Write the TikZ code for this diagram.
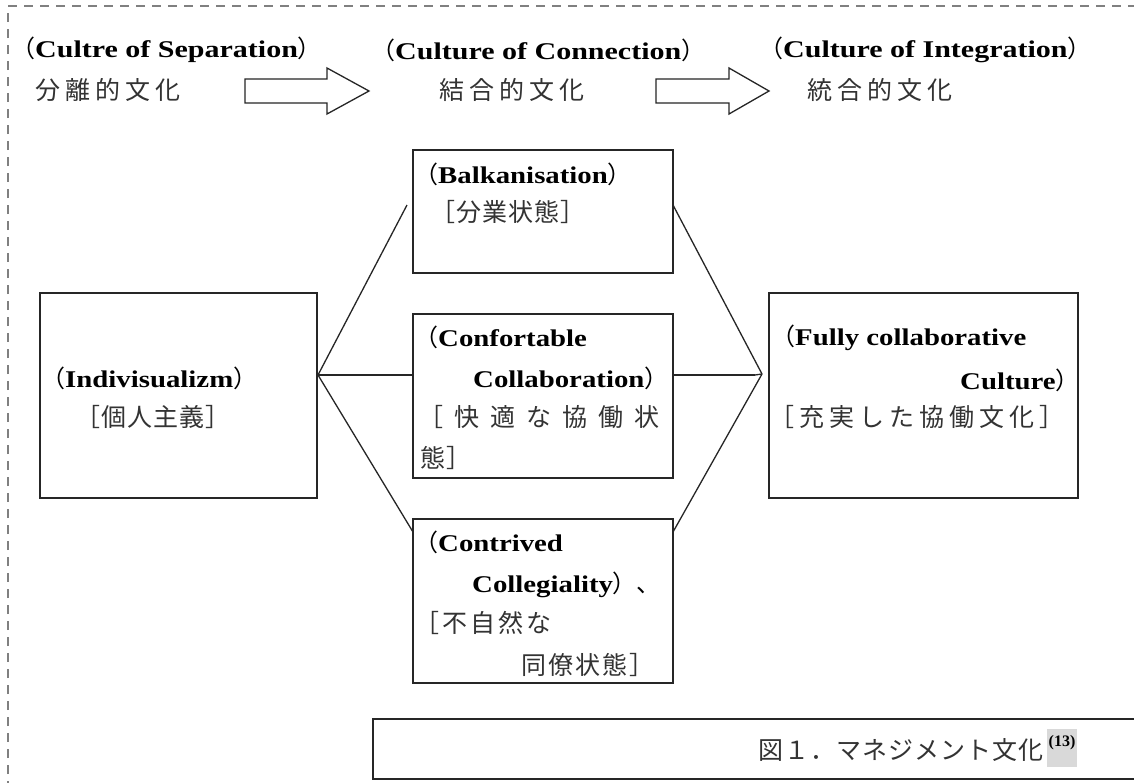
\documentclass[tikz,border=0pt]{standalone}
\usepackage{fontspec}
\setmainfont{Liberation Serif}
\newfontfamily\latw[FakeStretch=1.2]{Liberation Serif}
\newfontfamily\latwh[FakeStretch=1.25]{Liberation Serif}
\newfontfamily\cjk{Noto Sans CJK JP}
\makeatletter
\newcommand\crow[2]{\def\crow@w{#1}\crow@ #2\relax}
\def\crow@#1{\ifx#1\relax\else\makebox[\crow@w][c]{#1}\expandafter\crow@\fi}
\makeatother
\newcommand\jlp{{\cjk\mdseries （}}
\newcommand\jrp{{\cjk\mdseries ）}}
\tikzset{
  box/.style={draw=black!85, line width=2.6pt, inner sep=0pt},
  thinln/.style={line width=1.3pt, draw=black!85},
  thickln/.style={line width=2.8pt, draw=black!85},
  lat/.style={anchor=west, inner sep=0pt, font=\fontsize{24}{28}\selectfont\latw\bfseries},
  lath/.style={anchor=west, inner sep=0pt, font=\fontsize{24}{28}\selectfont\latwh\bfseries},
  jp/.style={anchor=west, inner sep=0pt, font=\fontsize{25}{28}\selectfont\cjk, text=black!80},
  bigarrow/.style={draw=black!85, line width=1.3pt, fill=white},
}
\begin{document}
\begin{tikzpicture}[x=1pt,y=-1pt]
\useasboundingbox[fill=white] (0,0) rectangle (1134,782);
% dashed frame
\draw[gray, line width=1.3pt, dash pattern=on 9pt off 7pt] (8,790) -- (8,6) -- (1140,6);

% header texts
\node[lath] (h1) at (11,50) {\jlp Cultre of Separation\jrp};
\node[lath] (h2) at (371,50) {\jlp Culture of Connection\jrp};
\node[lath] (h3) at (759,50) {\jlp Culture of Integration\jrp};
\node[jp] (j1) at (33,90) {\crow{30pt}{分離的文化}};
\node[jp] (j2) at (437,90) {\crow{30pt}{結合的文化}};
\node[jp] (j3) at (805,90) {\crow{30pt}{統合的文化}};

% big arrows
\draw[bigarrow] (245,79) -- (327,79) -- (327,68) -- (369,91) -- (327,114) -- (327,103) -- (245,103) -- cycle;
\draw[bigarrow] (656,79) -- (729,79) -- (729,68) -- (769,91) -- (729,114) -- (729,103) -- (656,103) -- cycle;

% boxes
\node[box, minimum width=277pt, minimum height=205pt] (ind) at (178.5,395.5) {};
\node[box, minimum width=260pt, minimum height=123pt] (balk) at (543,211.5) {};
\node[box, minimum width=260pt, minimum height=164pt] (conf) at (543,396) {};
\node[box, minimum width=260pt, minimum height=164pt] (contr) at (543,601) {};
\node[box, minimum width=309pt, minimum height=205pt] (full) at (923.5,395.5) {};

% box texts
\node[lat] (t1) at (41,378) {\jlp Indivisualizm\jrp};
\node[jp] (t2) at (75,417) {\crow{26pt}{［個人主義］}};

\node[lat] (t3) at (414,174) {\jlp Balkanisation\jrp};
\node[jp] (t4) at (430,212) {\crow{26pt}{［分業状態］}};

\node[lat] (t5) at (414,337) {\jlp Confortable};
\node[lat] (t6) at (473,378) {Collaboration\jrp};
\node[jp] (t7) at (413,417) {\crow{36pt}{［快適な協働状}};
\node[jp] (t8) at (420,458) {\crow{26pt}{態］}};

\node[lat] (t9) at (414,542) {\jlp Contrived};
\node[lat] (t10) at (472,585) {Collegiality\jrp{\cjk\mdseries 、}};
\node[jp] (t11) at (413,623) {\crow{28pt}{［不自然な}};
\node[jp] (t12) at (520,665) {\crow{27pt}{同僚状態］}};

\node[lat] (t13) at (771,338) {\jlp Fully collaborative};
\node[lat] (t14) at (960,380) {Culture\jrp};
\node[jp] (t15) at (767,417) {\crow{30pt}{［充実した協働文化］}};

% connectors
\coordinate (L) at (318,375);
\coordinate (R) at (762,374);
\coordinate (bl) at (407,205);
\coordinate (cl) at (413,532);
\coordinate (br) at (673,205);
\coordinate (cr) at (673,532);
\coordinate (rh) at (755,375);
\draw[thinln] (L) -- (bl);
\draw[thinln] (L) -- (cl);
\draw[thickln] (L) -- (L -| conf.west);
\draw[thinln] (br) -- (R);
\draw[thinln] (cr) -- (R);
\draw[thickln] (conf.east |- rh) -- (rh);
\draw[thinln] (rh) -- (R);

% caption
\node[draw=black!85, line width=1.6pt, minimum width=790pt, minimum height=60pt, anchor=north west, inner sep=0pt] (cap) at (372,718) {};
\node[fill=black!15, minimum width=30pt, minimum height=38pt, inner sep=0pt] (supbg) at (1062,748) {};
\node[jp] (capt) at (758,750) {\crow{26pt}{図１．マネジメント文化}};
\node[inner sep=0pt, font=\fontsize{16}{18}\selectfont\bfseries] (sup) at (1062,743) {(13)};
\end{tikzpicture}
\end{document}
